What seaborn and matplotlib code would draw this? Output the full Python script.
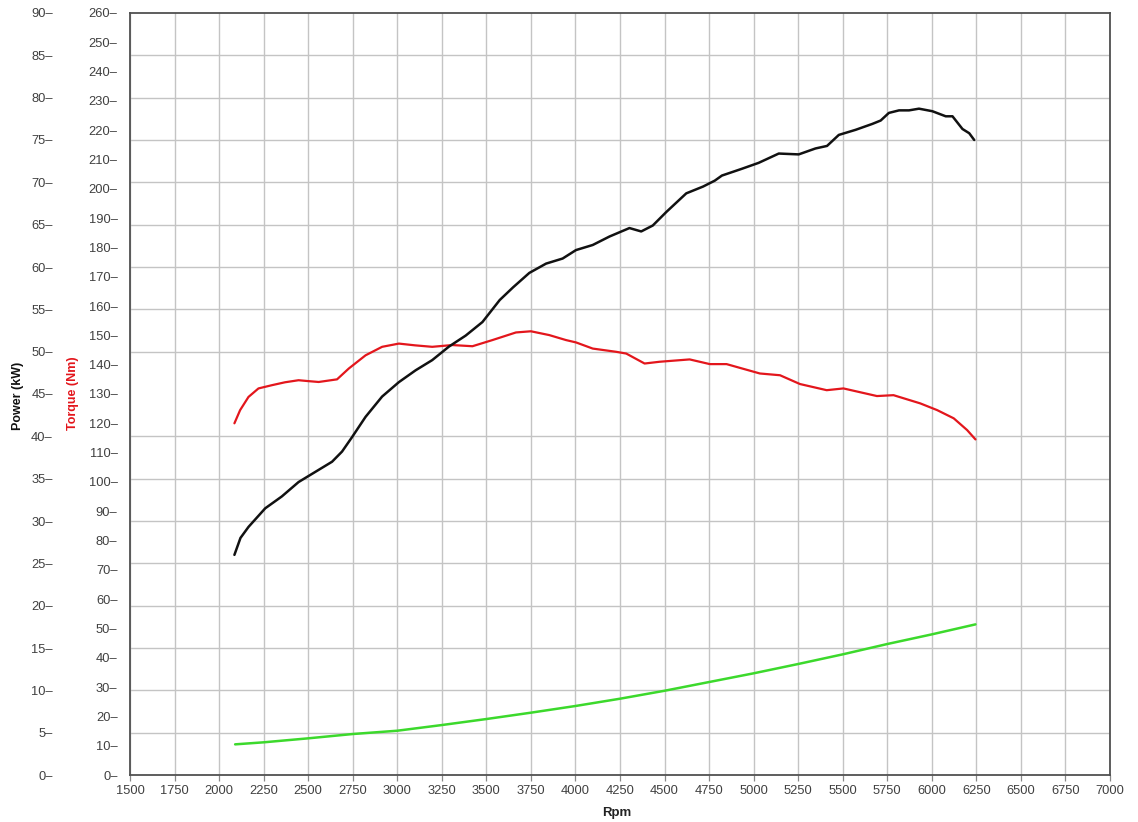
import numpy as np
import matplotlib
matplotlib.use("Agg")
import matplotlib.pyplot as plt
import seaborn as sns
from matplotlib.ticker import FixedLocator

# ---------------- data ----------------
power_rpm = [2086, 2120, 2165, 2259, 2352, 2446, 2540, 2634, 2690, 2746, 2822, 2915,
             3009, 3103, 3196, 3290, 3384, 3478, 3534, 3575, 3650, 3741, 3835, 3928,
             4003, 4097, 4191, 4303, 4369, 4434, 4510, 4622, 4716, 4782, 4822, 4934,
             5028, 5141, 5253, 5347, 5412, 5478, 5572, 5666, 5713, 5759, 5816, 5872,
             5928, 6003, 6078, 6116, 6172, 6210, 6238]
power_kw = [26.0, 28.0, 29.3, 31.5, 32.9, 34.6, 35.8, 37.0, 38.2, 39.9, 42.3, 44.7,
            46.4, 47.8, 49.0, 50.6, 51.9, 53.5, 55.0, 56.1, 57.6, 59.3, 60.4, 61.0,
            62.0, 62.6, 63.6, 64.6, 64.2, 64.9, 66.5, 68.7, 69.5, 70.2, 70.8, 71.6,
            72.3, 73.4, 73.3, 74.0, 74.3, 75.6, 76.2, 76.9, 77.3, 78.2, 78.5, 78.5,
            78.7, 78.4, 77.8, 77.8, 76.3, 75.8, 75.0]

torque_rpm = [2086, 2118, 2165, 2221, 2296, 2370, 2446, 2500, 2559, 2662, 2728, 2822,
              2915, 3009, 3100, 3196, 3309, 3422, 3534, 3666, 3750, 3853, 3947, 4003,
              4097, 4228, 4285, 4388, 4472, 4641, 4754, 4848, 5035, 5148, 5260, 5410,
              5504, 5692, 5785, 5935, 6030, 6123, 6198, 6245]
torque_nm = [120.0, 124.5, 129.0, 131.9, 133.0, 134.0, 134.7, 134.4, 134.1, 135.0, 138.7, 143.2,
             146.1, 147.2, 146.6, 146.1, 146.7, 146.3, 148.4, 151.0, 151.4, 150.1, 148.4, 147.6,
             145.5, 144.4, 143.8, 140.4, 141.0, 141.8, 140.2, 140.2, 137.0, 136.4, 133.4, 131.3,
             131.9, 129.3, 129.6, 126.8, 124.5, 121.7, 117.7, 114.5]

loss_rpm = [2090, 2250, 2500, 2750, 3000, 3250, 3500, 3750, 4000, 4250, 4500, 4750,
            5000, 5250, 5500, 5750, 6000, 6245]
loss_kw = [3.62, 3.86, 4.33, 4.84, 5.23, 5.90, 6.61, 7.36, 8.15, 9.01, 9.95, 10.98,
           12.01, 13.11, 14.25, 15.47, 16.61, 17.79]

rpm_ticks = list(range(1500, 7001, 250))
torque_ticks = list(range(0, 261, 10))
power_ticks = list(range(0, 91, 5))

# ---------------- style ----------------
sns.set_style("white")
plt.rcParams["font.family"] = ["Liberation Sans", "DejaVu Sans"]

W, H = 1138, 822
fig = plt.figure(figsize=(W / 100, H / 100), dpi=100)
L, R, T, B = 130, 1110, 13, 775
ax = fig.add_axes([L / W, 1 - B / H, (R - L) / W, (B - T) / H])
ax.set_xlim(1500, 7000)
ax.set_ylim(0, 260)

ax2 = ax.twinx()
ax2.set_ylim(0, 90)

tick_col = "#404040"
grid_col = "#c4c4c4"

# x axis
ax.set_xticks(rpm_ticks)
ax.set_xticklabels([str(v) for v in rpm_ticks])
ax.tick_params(axis="x", which="major", length=4.5, width=0.9, color="#888888",
               pad=3.0, labelsize=9.3, labelcolor=tick_col, bottom=True)

# torque axis (left, inner)
ax.set_yticks(torque_ticks)
ax.set_yticklabels([f"{v}\u2013" for v in torque_ticks])
ax.tick_params(axis="y", which="major", length=0, pad=9.0, labelsize=9.3,
               labelcolor=tick_col, left=True)
# horizontal grid follows the power scale
ax.yaxis.set_minor_locator(FixedLocator([p * 260 / 90 for p in power_ticks]))
ax.tick_params(axis="y", which="minor", length=0)
ax.grid(False)
ax.grid(True, axis="x", which="major", color=grid_col, lw=1.0)
ax.grid(True, axis="y", which="minor", color=grid_col, lw=1.0)
ax.set_axisbelow(True)

# power axis (left, outer)
ax2.yaxis.set_ticks_position("left")
ax2.yaxis.set_label_position("left")
ax2.spines["left"].set_position(("outward", 52))
for s in ax2.spines.values():
    s.set_visible(False)
ax2.set_yticks(power_ticks)
ax2.set_yticklabels([f"{v}\u2013" for v in power_ticks])
ax2.tick_params(axis="y", length=0, pad=3.6, labelsize=9.3, labelcolor=tick_col,
                left=True, right=False, labelleft=True, labelright=False)
ax2.grid(False)

for s in ax.spines.values():
    s.set_visible(True)
    s.set_color("#505050")
    s.set_linewidth(1.3)

# ---------------- lines ----------------
sns.lineplot(x=torque_rpm, y=torque_nm, ax=ax, color="#e3161c", lw=1.6)
sns.lineplot(x=loss_rpm, y=loss_kw, ax=ax2, color="#3cd92c", lw=1.8)
sns.lineplot(x=power_rpm, y=power_kw, ax=ax2, color="#111111", lw=1.8)

ax.set_xlabel("")
ax.set_ylabel("")
ax2.set_ylabel("")

# ---------------- labels ----------------
fig.text(18 / W, 1 - 396 / H, "Power (kW)", rotation=90, ha="center", va="center",
         fontsize=9, fontweight="bold", color="#111111")
fig.text(73 / W, 1 - 393 / H, "Torque (Nm)", rotation=90, ha="center", va="center",
         fontsize=9, fontweight="bold", color="#e3161c")
fig.text(617 / W, 1 - 813 / H, "Rpm", ha="center", va="center",
         fontsize=9.5, fontweight="bold", color="#222222")

fig.savefig("out.png", dpi=100, facecolor="white")
